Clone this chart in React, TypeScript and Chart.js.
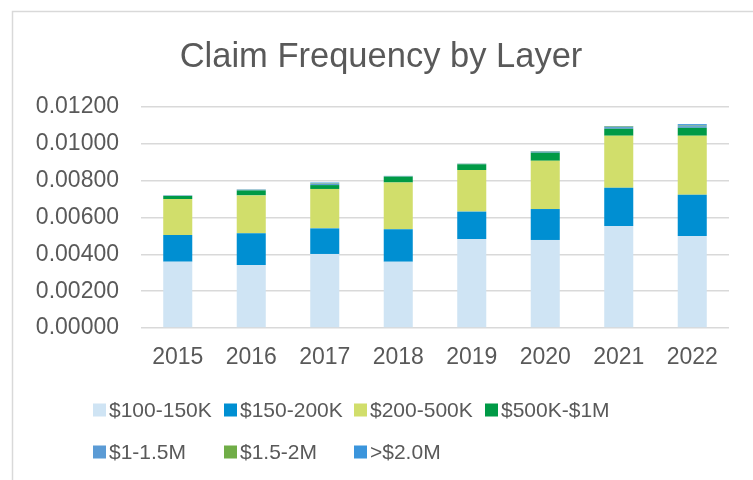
import React, { useEffect, useRef } from "react";
import { Chart, registerables } from "chart.js";

Chart.register(...registerables);

const years = ["2015", "2016", "2017", "2018", "2019", "2020", "2021", "2022"];
const layerLabels = ["$100-150K", "$150-200K", "$200-500K", "$500K-$1M", "$1-1.5M", "$1.5-2M", ">$2.0M"];
const layerColors = ["#cfe4f4", "#008fd2", "#d1de6b", "#009a46", "#5b9bd5", "#70ad47", "#3b95dc"];

const v100_150 = [0.0036, 0.00342, 0.00402, 0.0036, 0.00483, 0.00478, 0.00554, 0.005];
const v150_200 = [0.00145, 0.00172, 0.00139, 0.00176, 0.00149, 0.00168, 0.00208, 0.00224];
const v200_500 = [0.00195, 0.00206, 0.00214, 0.00254, 0.00226, 0.00262, 0.00282, 0.0032];
const v500_1m = [0.00017, 0.00027, 0.00021, 0.00032, 0.00031, 0.00044, 0.00038, 0.00043];
const v1_15m = [0.00002, 0.00004, 0.00008, 0.00002, 0.00002, 0.00005, 0.00009, 0.00009];
const v15_2m = [0.00001, 0.00001, 0.00003, 0.00001, 0.00001, 0.00002, 0.00003, 0.00003];
const v2m = [0.00001, 0.00001, 0.00003, 0.00001, 0.00001, 0.00002, 0.00003, 0.00008];

const seriesValues = [v100_150, v150_200, v200_500, v500_1m, v1_15m, v15_2m, v2m];

const yTicks = [0, 0.002, 0.004, 0.006, 0.008, 0.01, 0.012];

const TEXT = "#595959";
const FONT = "'Liberation Sans', Arial, sans-serif";

const decorPlugin = {
  id: "decor",
  beforeDraw(chart: any) {
    const ctx = chart.ctx;
    ctx.save();
    ctx.strokeStyle = "#d9d9d9";
    ctx.lineWidth = 1.5;
    ctx.beginPath();
    ctx.moveTo(12.5, 480);
    ctx.lineTo(12.5, 11.5);
    ctx.lineTo(753, 11.5);
    ctx.stroke();
    ctx.restore();
  },
  afterDraw(chart: any) {
    const ctx = chart.ctx;
    ctx.save();
    ctx.fillStyle = TEXT;
    ctx.font = `34.5px ${FONT}`;
    ctx.textAlign = "center";
    ctx.textBaseline = "middle";
    ctx.fillText("Claim Frequency by Layer", 381, 57);

    const colX = [93, 224, 354, 485];
    const rowY = [410, 452];
    ctx.font = `21px ${FONT}`;
    ctx.textAlign = "left";
    chart.data.datasets.forEach((ds: any, i: number) => {
      const row = i < 4 ? 0 : 1;
      const col = i % 4;
      const x = colX[col];
      const y = rowY[row];
      ctx.fillStyle = ds.backgroundColor;
      ctx.fillRect(x, y - 6.5, 13, 13);
      ctx.fillStyle = TEXT;
      ctx.fillText(ds.label, x + 16, y + 1);
    });
    ctx.restore();
  },
};

export default function App() {
  const ref = useRef<HTMLCanvasElement>(null);
  useEffect(() => {
    if (!ref.current) return;
    const chart = new Chart(ref.current, {
      type: "bar",
      data: {
        labels: years,
        datasets: layerLabels.map((label, i) => ({
          label,
          data: seriesValues[i],
          backgroundColor: layerColors[i],
          borderWidth: 0,
          barPercentage: 0.395,
          categoryPercentage: 1,
        })),
      },
      options: {
        responsive: false,
        animation: false,
        layout: { padding: { left: 0, right: 24, top: 107, bottom: 112 } },
        plugins: {
          legend: { display: false },
          title: { display: false },
          tooltip: { enabled: false },
        },
        scales: {
          x: {
            stacked: true,
            grid: { display: false, drawTicks: false },
            border: { display: false },
            ticks: { color: TEXT, font: { family: FONT, size: 23 }, padding: 16 },
            afterFit(scale: any) {
              scale.height = 40;
            },
          },
          y: {
            stacked: true,
            min: yTicks[0],
            max: yTicks[yTicks.length - 1],
            afterBuildTicks(scale: any) {
              scale.ticks = yTicks.map((v) => ({ value: v }));
            },
            grid: { color: "#d9d9d9", lineWidth: 1.5, drawTicks: false },
            border: { display: false },
            ticks: {
              color: TEXT,
              font: { family: FONT, size: 23 },
              padding: 22,
              callback: (v: any) => Number(v).toFixed(5),
            },
            afterFit(scale: any) {
              scale.width = 141;
            },
          },
        },
      },
      plugins: [decorPlugin],
    });
    return () => chart.destroy();
  }, []);
  return (
    <canvas
      ref={ref}
      width={753}
      height={480}
      style={{ position: "absolute", left: 0, top: 0, display: "block" }}
    />
  );
}
